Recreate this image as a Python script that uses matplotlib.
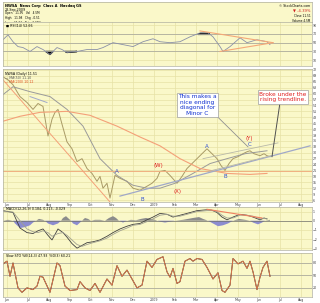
import numpy as np
import matplotlib.pyplot as plt

W, H = 320, 303
BG = '#FAF8C9'
GRID = '#E6E2A6'

# price panel (day index, price)
price_days = [0, 5, 10, 14, 17, 24, 30, 35, 40, 45, 49, 52, 55, 59, 64, 69, 74, 79, 84, 89,
              94, 97, 100, 104, 107, 112, 117, 124, 130, 137, 144, 149, 154, 157, 162, 167,
              174, 179, 184, 189, 194, 199, 204, 209, 214, 218, 222, 226, 230, 235, 240,
              244, 247, 251, 257, 261, 264, 267]
price = [68.5, 67, 64.5, 61, 58.5, 55.5, 52, 55, 53.5, 38.5, 47, 50.5, 52, 44.5, 35.5, 32,
         25.5, 27, 22, 19.5, 15.5, 18, 12, 14.5, 7, 18.5, 17, 15.5, 12, 11, 13, 14.5, 17,
         20.5, 21, 18.5, 14.5, 18, 22, 24.5, 27, 29.5, 32, 29.5, 27, 23.5, 21, 24.5, 27, 28,
         29.5, 30.5, 31, 29.5, 28.5, 29.5, 28.5, 28]

ma50_days = [0, 10, 27, 47, 64, 80, 97, 114, 130, 144, 157, 172, 190, 207, 224, 242, 264]
ma50 = [59.5, 63.5, 61, 58.5, 52, 43.5, 27, 18.5, 13.5, 12, 12, 14.5, 19.5, 24.5, 27, 29.5, 31]

ma200_days = [0, 17, 37, 64, 87, 114, 137, 157, 177, 197, 224, 247, 264]
ma200 = [46, 48.5, 50.5, 51, 49, 43.5, 38, 33.5, 27, 22, 19.5, 19, 19.5]

# RSI panel
rsi_days = [0, 5, 10, 15, 20, 27, 34, 40, 47, 54, 59, 64, 74, 84, 94, 100, 110, 120, 130,
            140, 150, 157, 167, 177, 187, 197, 205, 210, 217, 220, 227, 237, 244, 254, 264, 267]
rsi = [56.7, 67.8, 52.2, 41.1, 38.9, 30, 41.1, 34.4, 23.3, 38.9, 34.4, 27.8, 30, 34.4, 34.4,
       38.9, 50, 45.6, 41.1, 52.2, 58.9, 52.2, 50, 52.2, 63.3, 72.2, 72.2, 63.3, 41.1, 30,
       41.1, 61.1, 50, 56.7, 52.2, 45.6]

# MACD panel
macd_days = [0, 10, 17, 24, 30, 35, 40, 45, 49, 55, 60, 64, 69, 74, 79, 84, 90, 97, 104, 110,
             117, 124, 130, 137, 144, 150, 157, 164, 170, 177, 184, 194, 204, 209, 214, 219,
             224, 230, 237, 244, 250, 257, 261, 264]
macd = [1.1, 0.9, -0.8, -1.3, -1.4, -1.1, -0.9, -1.6, -2.1, -0.9, -1.3, -1.8, -2.5, -3.0,
        -2.7, -2.4, -2.3, -2.1, -1.7, -1.3, -0.9, -0.6, -0.4, -0.3, 0.1, 0.4, 0.8, 0.7, 0.4,
        0.6, 0.8, 1.1, 1.2, 1.15, 0.9, 0.4, 0.1, 0.4, 0.7, 0.6, 0.4, 0.1, 0.3, 0.2]
signal = [1.0, 0.95, 0.0, -0.9, -1.2, -1.3, -1.1, -1.3, -1.7, -1.4, -1.3, -1.6, -2.1, -2.6,
          -2.8, -2.6, -2.4, -2.2, -1.9, -1.5, -1.1, -0.8, -0.5, -0.4, -0.1, 0.2, 0.6, 0.7,
          0.5, 0.5, 0.7, 1.0, 1.1, 1.1, 1.0, 0.6, 0.3, 0.3, 0.6, 0.6, 0.5, 0.2, 0.25, 0.2]
hist_days = [0, 5, 10, 12, 17, 22, 27, 30, 33, 36, 40, 42, 45, 50, 55, 58, 60, 63, 66, 68, 70,
             74, 77, 79, 82, 85, 88, 92, 97, 102, 106, 110, 113, 116, 120, 124, 128, 133, 138,
             143, 148, 152, 157, 162, 167, 172, 180, 190, 196, 200, 205, 210, 215, 220, 225,
             230, 236, 242, 247, 250, 255, 259, 262, 267]
hist = [0, 0.1, 0, -0.3, -0.8, -0.7, -0.5, -0.2, 0, 0.2, 0.1, 0, -0.3, -0.5, -0.3, 0, 0.3, 0.5,
        0.2, 0, -0.3, -0.5, -0.2, 0, 0.3, 0.2, 0, 0.1, 0.1, 0, 0.3, 0.5, 0.3, 0, -0.2, 0, 0.1,
        0.05, 0.2, 0.3, 0.2, 0.1, -0.1, -0.2, -0.1, 0, 0.1, 0.3, 0.4, 0.2, 0, -0.3, -0.6, -0.5,
        -0.3, 0, 0.2, 0.1, 0, -0.2, -0.4, -0.2, 0, 0.1]

# slow stochastic panel
sto_days = [0, 4, 7, 10, 15, 19, 24, 30, 34, 37, 40, 47, 54, 57, 62, 67, 74, 77, 82, 87, 92,
            97, 104, 109, 114, 119, 124, 129, 134, 139, 144, 149, 154, 160, 164, 167, 170,
            174, 177, 182, 187, 190, 194, 199, 204, 210, 215, 219, 222, 227, 230, 235, 240,
            244, 247, 250, 254, 257, 260, 264, 267]
sto = [77.8, 84.3, 47.9, 80, 20, 9.3, 20, 15.8, 24.3, 47.9, 45.7, 9.3, 80, 73.5, 24.3, 13.6,
       15.8, 35, 20, 13.6, 30.7, 9.3, 41.4, 26.5, 73.5, 47.9, 62.8, 41.4, 20, 26.5, 84.3, 69.3,
       88.5, 95, 58.6, 45.7, 67, 30.7, 35, 84.3, 90.7, 84.3, 90.7, 88.5, 69.3, 41.4, 56.4,
       13.6, 9.3, 26.5, 90.7, 77.8, 84.3, 67, 84.3, 58.6, 15.8, 45.7, 69.3, 84.3, 47.9]

months = ['Jun', 'Jul', 'Aug', 'Sep', 'Oct', 'Nov', 'Dec', '2009', 'Feb', 'Mar', 'Apr',
          'May', 'Jun', 'Jul', 'Aug']
month_days = [4, 25, 46, 67, 88, 109, 130, 151, 172, 193, 214, 235, 256, 277, 298]

XMAX = 309


def box(x0, y0, x1, y1):
    return [x0 / W, 1 - y1 / H, (x1 - x0) / W, (y1 - y0) / H]


def style(ax, ylim, yticks, labels=True):
    ax.set_facecolor(BG)
    ax.set_xlim(0, XMAX)
    ax.set_ylim(*ylim)
    ax.set_xticks(month_days)
    ax.set_yticks(yticks)
    ax.grid(True, color=GRID, lw=0.5)
    ax.set_axisbelow(True)
    ax.yaxis.tick_right()
    ax.tick_params(length=0, labelsize=2.3, pad=0.8, colors='#444444')
    if labels:
        ax.set_xticklabels(months)
    else:
        ax.set_xticklabels([])
    for s in ax.spines.values():
        s.set_color('#B0B0A0')
        s.set_linewidth(0.5)


fig = plt.figure(figsize=(W / 100, H / 100), dpi=100)

# header block
hd = fig.add_axes(box(3, 2, 312, 22))
hd.set_facecolor(BG)
hd.set_xticks([])
hd.set_yticks([])
for s in hd.spines.values():
    s.set_color('#B0B0A0')
    s.set_linewidth(0.5)
hd.text(0.005, 0.92, 'NWSA  News Corp  Class A  Nasdaq GS', fontsize=2.5, va='top', weight='bold')
hd.text(0.005, 0.72, '28-Sep-2009', fontsize=2.3, va='top')
hd.text(0.005, 0.54, 'Open   11.95   Vol   4.5M\nHigh   11.98   Chg  -0.51\nLow    11.51   Pct  -4.39%',
        fontsize=2.1, va='top', linespacing=1.3)
hd.text(0.995, 0.92, '© StockCharts.com', fontsize=2.3, va='top', ha='right')
hd.text(0.995, 0.66, '▼ -4.39%', fontsize=2.7, va='top', ha='right', color='#D02020')
hd.text(0.995, 0.4, 'Close 11.51\nVolume 4.5M', fontsize=2.1, va='top', ha='right', linespacing=1.3)

# RSI
ra = fig.add_axes(box(3, 22, 312, 66))
style(ra, (-3, 97), [10, 30, 50, 70, 90], labels=False)
rd = np.array(rsi_days)
rv = np.array(rsi)
for lvl in (30, 50, 70):
    ra.axhline(lvl, color='#ADADA0', lw=0.6)
ra.plot(rd, rv, color='#8A90A8', lw=0.6)
ra.fill_between(rd, rv, 70, where=rv > 70, interpolate=True, color='k')
ra.fill_between(rd, rv, 30, where=rv < 30, interpolate=True, color='k')
ra.plot([197, 270], [76.7, 50], color='#F4A878', lw=0.8)
ra.plot([217, 270], [30, 50], color='#F4A878', lw=0.8)
ra.text(3, 85, '■ RSI(14) 52.66', fontsize=2.3)

# main price panel
ma = fig.add_axes(box(3, 69, 312, 202))
style(ma, (5, 72.5), list(range(6, 73, 3)))
ma.plot(price_days, price, color='#A99A66', lw=0.7)
ma.plot(ma50_days, ma50, color='#9A9A9A', lw=0.7)
ma.plot(ma200_days, ma200, color='#F4A078', lw=0.8)
ma.axhline(20.5, color='#F0B080', lw=0.7)
ma.plot([0, 107], [67, 5], color='#F4A078', lw=0.7)
ma.plot([117, 307], [8, 33.5], color='#A0A8C8', lw=0.9)
ma.plot([200, 275], [27, 35], color='#B8B8A8', lw=0.6)
ma.plot([205, 268], [20.5, 28.5], color='#B8B8A8', lw=0.6)
ma.plot([27, 44], [58.5, 55.5], color='#A0A8C8', lw=0.7)
ma.text(2, 71, 'NWSA (Daily) 11.51', fontsize=2.3, va='top')
ma.text(2, 69, '— MA(50) 11.10', fontsize=2.3, va='top', color='#555555')
ma.text(2, 67, '— MA(200) 10.12', fontsize=2.3, va='top', color='#E05020')

blue = '#3050D0'
red = '#E02020'
for d, p, t, c in [(114, 20.5, 'A', blue), (139, 6.5, 'B', blue), (155, 23.5, '(W)', red),
                   (174, 10.5, '(X)', red), (204, 33, 'A', blue), (222, 18, 'B', blue),
                   (246, 37, '(Y)', red), (247, 34, 'C', blue)]:
    ma.text(d, p, t, color=c, fontsize=4, ha='center', va='center')

ma.plot([215, 245], [48, 33], color='#909090', lw=0.6)
ma.text(194.5, 54.3, 'This makes a\nnice ending\ndiagonal for\nMinor C', color='#1030D0',
        fontsize=4.2, ha='center', va='center', linespacing=1.15,
        bbox=dict(boxstyle='square,pad=0.25', fc='white', ec='#A0A0A0', lw=0.5))
ma.plot([277, 269], [55.5, 28], color='#505050', lw=0.7)
ma.text(280, 58.3, 'Broke under the\nrising trendline.', color='#E02020', fontsize=4.2,
        ha='center', va='center', linespacing=1.15,
        bbox=dict(boxstyle='square,pad=0.25', fc='white', ec='#A0A0A0', lw=0.5))

# MACD panel
mc = fig.add_axes(box(3, 207, 312, 250))
style(mc, (-3.2, 1.5), [-3, -2, -1, 0, 1], labels=False)
hd_arr = np.array(hist_days)
hv = np.array(hist)
mc.fill_between(hd_arr, hv, 0, where=hv < 0, interpolate=True, color='#8C8CD0', lw=0)
mc.fill_between(hd_arr, hv, 0, where=hv > 0, interpolate=True, color='#8C8C8C', lw=0)
mc.axhline(0, color='#707070', lw=0.5)
mc.plot(macd_days, macd, color='#404040', lw=0.6)
mc.plot(macd_days, signal, color='#A0A090', lw=0.6)
mc.plot([204, 259], [1.25, 0.3], color='#F08060', lw=0.8)
mc.text(3, 1.45, 'MACD(12,26,9) 0.184, 0.213, -0.029', fontsize=2.3, va='top')

# slow stochastic panel
st = fig.add_axes(box(3, 253, 312, 297))
style(st, (-2, 104), [20, 50, 80])
for lvl in (20, 50, 80):
    st.axhline(lvl, color='#ADADA0', lw=0.6)
st.plot(sto_days, sto, color='#202020', lw=0.7)
st.plot(sto_days, sto, color='#F08050', lw=0.6)
st.text(3, 102, 'Slow STO %K(14,3) 47.93  %D(3) 60.21', fontsize=2.3, va='top')

fig.savefig('out.png', dpi=100, facecolor='white')
